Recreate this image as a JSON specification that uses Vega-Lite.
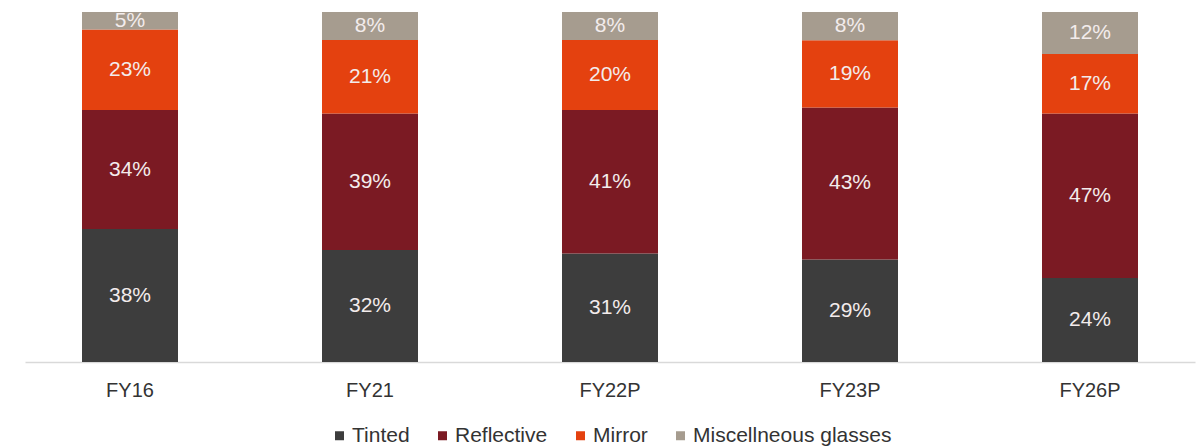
{
  "$schema": "https://vega.github.io/schema/vega-lite/v6.json",
  "width": 1170,
  "height": 350,
  "padding": {"left": 25, "top": 9, "right": 3, "bottom": 0},
  "autosize": {"type": "pad"},
  "background": "white",
  "config": {
    "view": {"stroke": null},
    "font": "Liberation Sans",
    "legend": {"layout": {"bottom": {"anchor": "middle"}}}
  },
  "data": {
    "values": [
      {"year": "FY16", "type": "Tinted", "k": 1, "v": 38},
      {"year": "FY16", "type": "Reflective", "k": 2, "v": 34},
      {"year": "FY16", "type": "Mirror", "k": 3, "v": 23},
      {"year": "FY16", "type": "Miscellneous glasses", "k": 4, "v": 5},
      {"year": "FY21", "type": "Tinted", "k": 1, "v": 32},
      {"year": "FY21", "type": "Reflective", "k": 2, "v": 39},
      {"year": "FY21", "type": "Mirror", "k": 3, "v": 21},
      {"year": "FY21", "type": "Miscellneous glasses", "k": 4, "v": 8},
      {"year": "FY22P", "type": "Tinted", "k": 1, "v": 31},
      {"year": "FY22P", "type": "Reflective", "k": 2, "v": 41},
      {"year": "FY22P", "type": "Mirror", "k": 3, "v": 20},
      {"year": "FY22P", "type": "Miscellneous glasses", "k": 4, "v": 8},
      {"year": "FY23P", "type": "Tinted", "k": 1, "v": 29},
      {"year": "FY23P", "type": "Reflective", "k": 2, "v": 43},
      {"year": "FY23P", "type": "Mirror", "k": 3, "v": 19},
      {"year": "FY23P", "type": "Miscellneous glasses", "k": 4, "v": 8},
      {"year": "FY26P", "type": "Tinted", "k": 1, "v": 24},
      {"year": "FY26P", "type": "Reflective", "k": 2, "v": 47},
      {"year": "FY26P", "type": "Mirror", "k": 3, "v": 17},
      {"year": "FY26P", "type": "Miscellneous glasses", "k": 4, "v": 12}
    ]
  },
  "transform": [
    {"stack": "v", "groupby": ["year"], "sort": [{"field": "k", "order": "ascending"}], "as": ["y0", "y1"], "offset": "normalize"},
    {"calculate": "(datum.y0 + datum.y1) / 2", "as": "ymid"},
    {"calculate": "datum.v + '%'", "as": "lab"}
  ],
  "encoding": {
    "x": {
      "field": "year",
      "type": "nominal",
      "sort": null,
      "scale": {"paddingInner": 0.6, "paddingOuter": 0.2375},
      "axis": {
        "title": null,
        "labelAngle": 0,
        "labelFontSize": 20,
        "labelColor": "#333333",
        "labelPadding": 18,
        "ticks": false,
        "domainColor": "#d9d9d9",
        "domainWidth": 1.5
      }
    }
  },
  "layer": [
    {
      "mark": {"type": "bar"},
      "encoding": {
        "y": {"field": "y0", "type": "quantitative", "scale": {"domain": [0, 1], "nice": false}, "axis": null},
        "y2": {"field": "y1"},
        "color": {
          "field": "type",
          "type": "nominal",
          "sort": ["Tinted", "Reflective", "Mirror", "Miscellneous glasses"],
          "scale": {
            "domain": ["Tinted", "Reflective", "Mirror", "Miscellneous glasses"],
            "range": ["#3d3d3d", "#7b1a23", "#e4410f", "#a69c8f"]
          },
          "legend": {
            "title": null,
            "orient": "bottom",
            "direction": "horizontal",
            "symbolType": "square",
            "symbolSize": 81,
            "symbolStrokeWidth": 0,
            "labelFontSize": 21,
            "labelLimit": 400,
            "labelColor": "#333333",
            "labelOffset": 2,
            "columnPadding": 22,
            "offset": 25
          }
        }
      }
    },
    {
      "mark": {"type": "text", "fontSize": 21, "color": "#f3ecec", "baseline": "middle"},
      "encoding": {
        "y": {"field": "ymid", "type": "quantitative"},
        "text": {"field": "lab"}
      }
    }
  ]
}
